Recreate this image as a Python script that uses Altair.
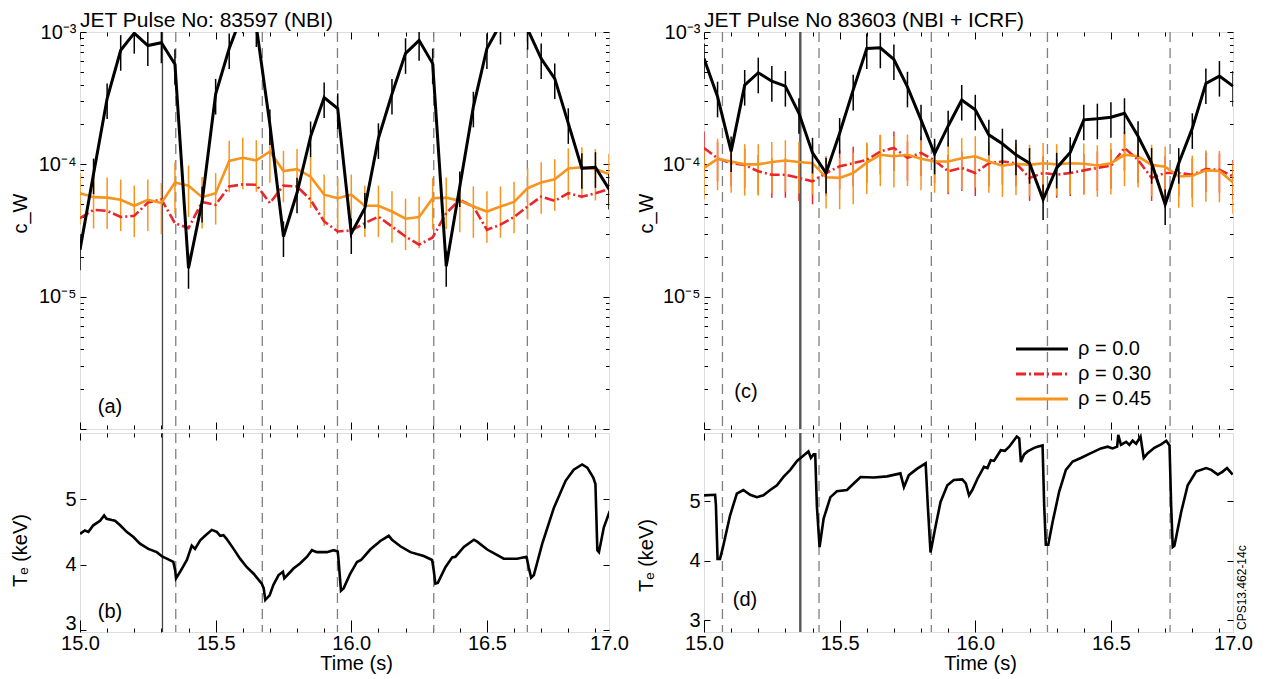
import altair as alt
import pandas as pd

FONT = "Liberation Sans"

# ---------------- data ----------------
TIME = [15.00, 15.05, 15.10, 15.15, 15.20, 15.25, 15.30, 15.35, 15.40, 15.45,
        15.50, 15.55, 15.60, 15.65, 15.70, 15.75, 15.80, 15.85, 15.90, 15.95,
        16.00, 16.05, 16.10, 16.15, 16.20, 16.25, 16.30, 16.35, 16.40, 16.45,
        16.50, 16.55, 16.60, 16.65, 16.70, 16.75, 16.80, 16.85, 16.90, 16.95]

SERIES = ["ρ = 0.0", "ρ = 0.30", "ρ = 0.45"]

# pulse 83597 (NBI)
L_CW_00 = [2.26e-5, 8.5e-5, 3.14e-4, 7.28e-4, 9.8e-4, 7.9e-4, 8.3e-4, 5.7e-4, 1.64e-5, 5.2e-5,
           3.4e-4, 7.5e-4, 1.4e-3, 1.1e-3, 2.0e-4, 2.85e-5, 6.1e-5, 1.62e-4, 3.2e-4, 2.64e-4,
           3.0e-5, 4.67e-5, 1.57e-4, 3.4e-4, 6.9e-4, 8.65e-4, 5.77e-4, 1.7e-5, 6.8e-5, 2.72e-4,
           7.5e-4, 1.15e-3, 1.5e-3, 1.05e-3, 6.3e-4, 4.45e-4, 2.04e-4, 9.33e-5, 9.5e-5, 6.5e-5]
L_CW_30 = [3.92e-5, 4.53e-5, 4.45e-5, 4.0e-5, 4.08e-5, 5.14e-5, 5.45e-5, 3.59e-5, 3.3e-5, 5.2e-5,
           4.94e-5, 6.8e-5, 7.06e-5, 7.0e-5, 5.1e-5, 6.9e-5, 6.8e-5, 5.4e-5, 3.7e-5, 3.11e-5,
           3.16e-5, 3.59e-5, 4.03e-5, 3.39e-5, 2.85e-5, 2.47e-5, 2.8e-5, 4.28e-5, 5.4e-5, 4.8e-5,
           3.2e-5, 3.5e-5, 4.0e-5, 4.8e-5, 5.7e-5, 5.3e-5, 6.05e-5, 5.7e-5, 6.05e-5, 6.5e-5]
L_CW_45 = [6.05e-5, 5.65e-5, 5.6e-5, 5.4e-5, 4.86e-5, 5.4e-5, 5.1e-5, 7.3e-5, 6.9e-5, 5.65e-5,
           6.05e-5, 1.06e-4, 1.12e-4, 1.07e-4, 1.25e-4, 8.9e-5, 9.2e-5, 8.07e-5, 5.9e-5, 5.55e-5,
           5.9e-5, 4.86e-5, 4.86e-5, 4.4e-5, 3.88e-5, 4.0e-5, 5.55e-5, 5.6e-5, 5.3e-5, 4.8e-5,
           4.4e-5, 4.8e-5, 5.2e-5, 6.6e-5, 7.3e-5, 7.7e-5, 9.3e-5, 9.5e-5, 9.2e-5, 8.45e-5]

# pulse 83603 (NBI + ICRF)
R_CW_00 = [6.3e-4, 3.24e-4, 1.25e-4, 3.97e-4, 4.92e-4, 4.25e-4, 3.9e-4, 2.43e-4, 1.22e-4, 8.6e-5,
           1.72e-4, 3.65e-4, 7.5e-4, 7.6e-4, 6.2e-4, 3.85e-4, 2.17e-4, 1.2e-4, 1.95e-4, 3.06e-4,
           2.58e-4, 1.67e-4, 1.43e-4, 1.18e-4, 1.02e-4, 5.42e-5, 9.4e-5, 1.23e-4, 2.17e-4, 2.21e-4,
           2.27e-4, 2.43e-4, 1.63e-4, 1.02e-4, 4.98e-5, 1.02e-4, 1.87e-4, 4.08e-4, 4.64e-4, 3.9e-4]
R_CW_30 = [1.33e-4, 1.11e-4, 1.02e-4, 9.9e-5, 8.85e-5, 8.35e-5, 8.35e-5, 7.9e-5, 7.45e-5, 8.6e-5,
           9.66e-5, 1.02e-4, 1.08e-4, 1.25e-4, 1.33e-4, 1.12e-4, 1.22e-4, 1.07e-4, 8.85e-5, 9.4e-5,
           8.6e-5, 1.02e-4, 1.05e-4, 1.02e-4, 7.9e-5, 8.6e-5, 8.35e-5, 8.6e-5, 9.0e-5, 9.4e-5,
           9.77e-5, 1.33e-4, 1.08e-4, 7.9e-5, 8.6e-5, 8.6e-5, 8.35e-5, 9.2e-5, 9.1e-5, 8.1e-5]
R_CW_45 = [9.4e-5, 1.1e-4, 1.05e-4, 1.0e-4, 1.0e-4, 1.04e-4, 1.07e-4, 1.04e-4, 1.02e-4, 7.98e-5,
           7.9e-5, 8.6e-5, 1.03e-4, 1.18e-4, 1.15e-4, 1.18e-4, 1.1e-4, 1.05e-4, 1.05e-4, 1.11e-4,
           1.15e-4, 1.05e-4, 9.77e-5, 1.01e-4, 9.9e-5, 1.02e-4, 1.0e-4, 1.02e-4, 1.01e-4, 9.8e-5,
           1.02e-4, 1.18e-4, 1.15e-4, 9.9e-5, 9.6e-5, 8.1e-5, 8.2e-5, 9.0e-5, 8.9e-5, 7.3e-5]

# relative size of the error bars
ERR_REL = {"ρ = 0.0": 0.30, "ρ = 0.30": 0.33, "ρ = 0.45": 0.42}

# electron temperature, pulse 83597
L_TE_T = [15.000, 15.018, 15.031, 15.049, 15.074, 15.089, 15.098, 15.117, 15.129, 15.148,
          15.172, 15.197, 15.221, 15.252, 15.283, 15.304, 15.320, 15.344, 15.351, 15.354,
          15.369, 15.394, 15.412, 15.424, 15.443, 15.461, 15.486, 15.504, 15.517, 15.529,
          15.541, 15.566, 15.590, 15.615, 15.640, 15.670, 15.677, 15.683, 15.699, 15.713,
          15.732, 15.748, 15.753, 15.769, 15.787, 15.812, 15.837, 15.855, 15.873, 15.892,
          15.910, 15.935, 15.950, 15.953, 15.962, 15.972, 15.996, 16.021, 16.036, 16.070,
          16.107, 16.138, 16.150, 16.181, 16.218, 16.267, 16.298, 16.304, 16.310, 16.319,
          16.347, 16.372, 16.384, 16.415, 16.452, 16.464, 16.501, 16.562, 16.611, 16.646,
          16.654, 16.663, 16.673, 16.704, 16.747, 16.790, 16.820, 16.851, 16.870, 16.892,
          16.900, 16.907, 16.913, 16.931, 16.953]
L_TE_V = [4.47, 4.52, 4.50, 4.60, 4.67, 4.75, 4.70, 4.68, 4.67, 4.60,
          4.50, 4.42, 4.32, 4.24, 4.19, 4.12, 4.09, 4.04, 3.91, 3.79,
          3.89, 4.07, 4.29, 4.24, 4.37, 4.44, 4.53, 4.50, 4.44, 4.45,
          4.39, 4.24, 4.09, 3.96, 3.86, 3.71, 3.64, 3.46, 3.53, 3.69,
          3.84, 3.89, 3.79, 3.86, 3.94, 4.02, 4.12, 4.22, 4.19, 4.19,
          4.19, 4.22, 4.20, 4.07, 3.60, 3.64, 3.86, 4.04, 4.07, 4.23,
          4.36, 4.44, 4.38, 4.28, 4.19, 4.13, 4.07, 3.91, 3.71, 3.72,
          3.96, 4.11, 4.12, 4.27, 4.38, 4.35, 4.23, 4.09, 4.09, 4.12,
          3.96, 3.80, 3.84, 4.32, 4.87, 5.28, 5.45, 5.53, 5.48, 5.33,
          5.23, 4.22, 4.19, 4.57, 4.82]

# electron temperature, pulse 83603
R_TE_T = [15.000, 15.041, 15.044, 15.050, 15.059, 15.071, 15.096, 15.121, 15.145, 15.170,
          15.195, 15.219, 15.244, 15.269, 15.293, 15.318, 15.343, 15.367, 15.385, 15.394,
          15.404, 15.410, 15.416, 15.426, 15.441, 15.466, 15.490, 15.527, 15.552, 15.577,
          15.626, 15.675, 15.724, 15.737, 15.755, 15.786, 15.817, 15.825, 15.835, 15.854,
          15.872, 15.897, 15.921, 15.952, 15.965, 15.977, 15.989, 16.008, 16.032, 16.045,
          16.057, 16.069, 16.094, 16.109, 16.125, 16.138, 16.153, 16.162, 16.168, 16.180,
          16.193, 16.217, 16.229, 16.248, 16.254, 16.260, 16.269, 16.285, 16.309, 16.334,
          16.359, 16.389, 16.426, 16.463, 16.488, 16.506, 16.523, 16.527, 16.537, 16.556,
          16.568, 16.580, 16.593, 16.609, 16.621, 16.636, 16.660, 16.685, 16.704, 16.716,
          16.722, 16.728, 16.734, 16.759, 16.783, 16.814, 16.851, 16.870, 16.894, 16.912,
          16.928, 16.949]
R_TE_V = [5.10, 5.11, 4.93, 4.03, 4.03, 4.25, 4.76, 5.13, 5.19, 5.11,
          5.07, 5.10, 5.19, 5.27, 5.41, 5.53, 5.68, 5.77, 5.84, 5.73,
          5.79, 5.79, 4.93, 4.23, 4.71, 5.07, 5.17, 5.19, 5.30, 5.41,
          5.40, 5.42, 5.47, 5.24, 5.44, 5.55, 5.64, 4.93, 4.14, 4.59,
          4.99, 5.27, 5.36, 5.37, 5.30, 5.10, 5.19, 5.38, 5.58, 5.56,
          5.69, 5.68, 5.86, 5.85, 5.92, 6.00, 6.09, 6.06, 5.66, 5.79,
          5.84, 5.90, 5.92, 5.94, 4.93, 4.27, 4.27, 4.65, 5.16, 5.53,
          5.67, 5.73, 5.81, 5.89, 5.92, 5.89, 5.92, 6.12, 5.95, 6.00,
          5.95, 6.02, 5.97, 6.09, 5.73, 5.81, 5.90, 5.96, 6.02, 5.94,
          4.93, 4.23, 4.25, 4.82, 5.27, 5.50, 5.56, 5.53, 5.45, 5.50,
          5.56, 5.45]

# sawtooth crash times (dashed) and analysis time (solid)
L_CRASH = [15.353, 15.672, 15.949, 16.304, 16.649]
L_MARK = [15.304]
R_CRASH = [15.068, 15.424, 15.838, 16.266, 16.718]
R_MARK = [15.355]

# axis ticks / labels
X_LABELS = [15.0, 15.5, 16.0, 16.5, 16.95]
X_TICKS = [15.0, 15.1, 15.2, 15.3, 15.4, 15.5, 15.6, 15.7, 15.8, 15.9,
           16.0, 16.1, 16.2, 16.3, 16.4, 16.5, 16.6, 16.7, 16.8, 16.9]
Y_DECADES = [1e-5, 1e-4, 1e-3]
Y_TICKS = [m * 10.0 ** e for e in (-6, -5, -4) for m in range(1, 10)] + [1e-3]
TE_TICKS = [3, 4, 5]

# ---------------- style ----------------
STYLE = {
    "ρ = 0.0": dict(color="#000000", width=3.0, dash=None),
    "ρ = 0.30": dict(color="#e8262c", width=2.6, dash=[10, 3, 2, 3]),
    "ρ = 0.45": dict(color="#f7941d", width=2.6, dash=None),
}
W, HT, HB = 529, 397, 199
XDOM = [15.0, 16.95]
CW_DOM = [1e-6, 1e-3]
xscale = alt.Scale(domain=XDOM, nice=False, zero=False)
cw_scale = alt.Scale(type="log", domain=CW_DOM, nice=False)
te_scale_l = alt.Scale(domain=[2.97, 6.01], nice=False, zero=False)
te_scale_r = alt.Scale(domain=[2.80, 6.15], nice=False, zero=False)

X_MAJOR = "abs(datum.value*2 - round(datum.value*2)) < 0.001"
Y_MAJOR = "abs(log(datum.value)/LN10 - round(log(datum.value)/LN10)) < 0.01"
ONE = pd.DataFrame({"k": [0]})


def cond(test, major, minor):
    return {"condition": {"test": test, "value": major}, "value": minor}


TICK_COMMON = dict(labels=False, domain=False, grid=False, ticks=True,
                   tickColor="black", tickWidth=1, title=None)


def tick_layers(df, yscale, yvals, ysize, h, xb, xt):
    base = alt.Chart(df).mark_point(opacity=0, size=1)
    l1 = base.encode(
        x=alt.X("t:Q", scale=xscale, axis=alt.Axis(orient="top", offset=-h, values=X_TICKS,
                                                   tickSize=cond(X_MAJOR, *xb), **TICK_COMMON)),
        y=alt.Y("v:Q", scale=yscale, axis=alt.Axis(orient="right", offset=-W, values=yvals,
                                                   tickSize=ysize, **TICK_COMMON)),
    )
    l2 = base.encode(
        x=alt.X("t:Q", scale=xscale, axis=alt.Axis(orient="bottom", offset=-h, values=X_TICKS,
                                                   tickSize=cond(X_MAJOR, *xt), **TICK_COMMON)),
        y=alt.Y("v:Q", scale=yscale, axis=alt.Axis(orient="left", offset=-W, values=yvals,
                                                   tickSize=ysize, **TICK_COMMON)),
    )
    return [l1, l2]


def vline_layers(crash, mark, mark_width, mark_color):
    d = alt.Chart(pd.DataFrame({"t": crash})).mark_rule(
        color="#808080", strokeWidth=1.3, strokeDash=[10, 6]).encode(
        x=alt.X("t:Q", scale=xscale, axis=None))
    s = alt.Chart(pd.DataFrame({"t": mark})).mark_rule(
        color=mark_color, strokeWidth=mark_width).encode(
        x=alt.X("t:Q", scale=xscale, axis=None))
    return [d, s]


def text_layer(text, x, y, size=20, align="center", baseline="middle", angle=0):
    kw = dict(text=text, font=FONT, fontSize=size, color="black", align=align,
              baseline=baseline)
    if angle:
        kw["angle"] = angle
    return alt.Chart(ONE).mark_text(**kw).encode(x=alt.value(x), y=alt.value(y))


def cw_frame(values):
    rows = []
    for s, vals in values.items():
        for t, v in zip(TIME, vals):
            rows.append({"t": t, "v": v, "series": s,
                         "lo": v * (1 - ERR_REL[s]), "hi": v * (1 + ERR_REL[s])})
    return pd.DataFrame(rows)


def y_title_kw(title, tx, ty):
    return dict(title=title, titleFont=FONT, titleFontSize=20, titleFontWeight="normal",
                titleColor="black", titleX=tx, titleY=ty, titleAngle=270,
                titleAlign="center", titleBaseline="middle")


LABEL_KW = dict(labelFont=FONT, labelFontSize=20, labelColor="black")


def top_panel(values, err_series, crash, mark, mark_width, mark_color, label, title, tx,
              legend=False):
    df = cw_frame(values)
    layers = vline_layers(crash, mark, mark_width, mark_color)
    for s in err_series:
        st = STYLE[s]
        layers.append(alt.Chart(df[df.series == s]).mark_rule(
            color=st["color"], strokeWidth=1.5, clip=True).encode(
            x=alt.X("t:Q", scale=xscale, axis=None),
            y=alt.Y("lo:Q", scale=cw_scale, axis=None),
            y2="hi:Q"))
    first = True
    for s in ["ρ = 0.30", "ρ = 0.45", "ρ = 0.0"]:
        st = STYLE[s]
        if s == "ρ = 0.0":
            layers.append(alt.Chart(df[df.series == s]).mark_rule(
                color=st["color"], strokeWidth=1.5, clip=True).encode(
                x=alt.X("t:Q", scale=xscale, axis=None),
                y=alt.Y("lo:Q", scale=cw_scale, axis=None),
                y2="hi:Q"))
        kw = dict(color=st["color"], strokeWidth=st["width"], clip=True)
        if st["dash"]:
            kw["strokeDash"] = st["dash"]
        if first:
            yaxis = alt.Axis(values=Y_DECADES, ticks=False, domain=False, grid=False,
                             labelExpr="datum.value > 5e-4 ? '10⁻³' : (datum.value > 5e-5 ? '10⁻⁴' : '10⁻⁵')",
                             labelPadding=4, **LABEL_KW, **y_title_kw("c_W", tx, 181))
        else:
            yaxis = None
        layers.append(alt.Chart(df[df.series == s]).mark_line(**kw).encode(
            x=alt.X("t:Q", scale=xscale, axis=None),
            y=alt.Y("v:Q", scale=cw_scale, axis=yaxis)))
        first = False
    layers.append(text_layer(label[0], label[1], label[2]))
    layers.append(text_layer(title, 0, -5, size=21, align="left", baseline="alphabetic"))
    if legend:
        for i, s in enumerate(SERIES):
            st = STYLE[s]
            kw = dict(color=st["color"], strokeWidth=3)
            if st["dash"]:
                kw["strokeDash"] = st["dash"]
            yy = 317 + 25 * i
            layers.append(alt.Chart(ONE).mark_rule(**kw).encode(
                x=alt.value(312), x2=alt.value(364), y=alt.value(yy)))
            layers.append(text_layer(s, 374, yy, align="left"))
    inside = df[(df.v >= CW_DOM[0]) & (df.v <= CW_DOM[1])]
    layers += tick_layers(inside, cw_scale, Y_TICKS, cond(Y_MAJOR, 6, 3.5), HT, (7, 4), (7, 4))
    return alt.layer(*layers).resolve_axis(x="independent", y="independent").properties(
        width=W, height=HT)


def bottom_panel(te_t, te_v, te_scale, crash, mark, mark_width, mark_color, label, tx, ty,
                 low_label_shift, stamp=False):
    df = pd.DataFrame({"t": te_t, "v": te_v})
    layers = vline_layers(crash, mark, mark_width, mark_color)
    xaxis = alt.Axis(values=X_LABELS, ticks=False, domain=False, grid=False,
                     labelExpr="datum.value > 16.9 ? '17.0' : format(datum.value, '.1f')",
                     labelFlush=False, labelOverlap=False, labelPadding=1, **LABEL_KW,
                     title="Time (s)", titleFont=FONT, titleFontSize=20, titleFontWeight="normal",
                     titleColor="black", titlePadding=0, titleX=276, titleAlign="center")
    yaxis = alt.Axis(values=TE_TICKS, ticks=False, domain=False, grid=False, format="d",
                     labelPadding=4, labelOffset=cond("datum.value == 3", low_label_shift, 0),
                     **LABEL_KW, **y_title_kw("Tₑ (keV)", tx, ty))
    layers.append(alt.Chart(df).mark_line(color="black", strokeWidth=2.6, clip=True).encode(
        x=alt.X("t:Q", scale=xscale, axis=xaxis),
        y=alt.Y("v:Q", scale=te_scale, axis=yaxis)))
    layers.append(text_layer(label[0], label[1], label[2]))
    if stamp:
        layers.append(text_layer("CPS13.462-14c", 538, 197, size=12, align="left", angle=270))
    layers += tick_layers(df, te_scale, TE_TICKS, 6, HB, (12, 4), (7, 4))
    return alt.layer(*layers).resolve_axis(x="independent", y="independent").properties(
        width=W, height=HB)


top_l = top_panel({"ρ = 0.0": L_CW_00, "ρ = 0.30": L_CW_30, "ρ = 0.45": L_CW_45},
                  ["ρ = 0.45"], L_CRASH, L_MARK, 1.3, "#444444", ("(a)", 30, 375),
                  "JET Pulse No: 83597 (NBI)", -60)
bot_l = bottom_panel(L_TE_T, L_TE_V, te_scale_l, L_CRASH, L_MARK, 1.3, "#444444",
                     ("(b)", 30, 179), -60, 117, -7)
top_r = top_panel({"ρ = 0.0": R_CW_00, "ρ = 0.30": R_CW_30, "ρ = 0.45": R_CW_45},
                  ["ρ = 0.30", "ρ = 0.45"], R_CRASH, R_MARK, 2.4, "#555555", ("(c)", 42, 360),
                  "JET Pulse No 83603 (NBI + ICRF)", -58, legend=True)
bot_r = bottom_panel(R_TE_T, R_TE_V, te_scale_r, R_CRASH, R_MARK, 2.4, "#555555",
                     ("(d)", 41, 167), -58, 122, 0, stamp=True)

left = alt.vconcat(top_l, bot_l, spacing=0)
right = alt.vconcat(top_r, bot_r, spacing=0)
chart = alt.hconcat(left, right, spacing=6).properties(
    padding={"left": 9, "top": 9, "right": 5, "bottom": 5},
    background="white",
).configure_view(stroke="black", strokeWidth=1.2).configure(font=FONT)

chart.save("out.html", embed_options={"renderer": "svg", "actions": False})
